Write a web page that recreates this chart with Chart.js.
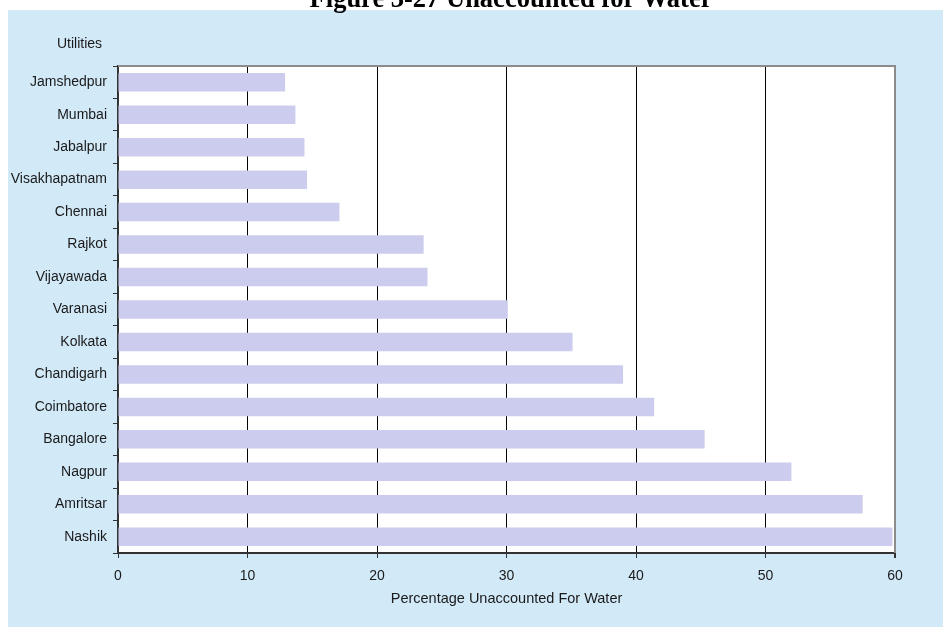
<!DOCTYPE html>
<html>
<head>
<meta charset="utf-8">
<title>Unaccounted for Water</title>
<script src="https://cdn.jsdelivr.net/npm/chart.js@4/dist/chart.umd.min.js"></script>
<style>
  html, body { margin: 0; padding: 0; background: #ffffff; }
  #wrap { width: 943px; height: 627px; }
</style>
</head>
<body>
<div id="wrap"><canvas id="c" width="943" height="627"></canvas></div>
<script>
// Utilities, listed top to bottom
const utilities = [
  'Jamshedpur', 'Mumbai', 'Jabalpur', 'Visakhapatnam', 'Chennai',
  'Rajkot', 'Vijayawada', 'Varanasi', 'Kolkata', 'Chandigarh',
  'Coimbatore', 'Bangalore', 'Nagpur', 'Amritsar', 'Nashik'
];

// Percentage of water unaccounted for, per utility
const unaccountedPct = [
  12.9, 13.7, 14.4, 14.6, 17.1,
  23.6, 23.9, 30.1, 35.1, 39.0,
  41.4, 45.3, 52.0, 57.5, 59.8
];

// Value axis tick labels
const xTicks = [0, 10, 20, 30, 40, 50, 60];

const chartTitle = 'Figure 3-27 Unaccounted for Water';
const categoryTitle = 'Utilities';
const valueTitle = 'Percentage Unaccounted For Water';

const SANS = '"Liberation Sans", Arial, sans-serif';
const SERIF = '"Liberation Serif", "Times New Roman", serif';

// Light blue panel, heading, the "Utilities" caption and the gray frame
const decorations = {
  id: 'decorations',
  beforeDraw(chart) {
    const ctx = chart.ctx;
    ctx.save();
    ctx.fillStyle = '#ffffff';
    ctx.fillRect(0, 0, chart.width, chart.height);
    ctx.fillStyle = 'rgb(210,233,248)';
    ctx.fillRect(8, 10, chart.width - 8, chart.height - 10);
    const a = chart.chartArea;
    ctx.fillStyle = '#ffffff';
    ctx.fillRect(a.left, a.top, a.right - a.left, a.bottom - a.top);
    ctx.restore();
  },
  afterDraw(chart) {
    const ctx = chart.ctx;
    const a = chart.chartArea;
    ctx.save();
    // frame on top and right
    ctx.strokeStyle = '#8c8c8c';
    ctx.lineWidth = 2;
    ctx.beginPath();
    ctx.moveTo(a.left, a.top);
    ctx.lineTo(a.right, a.top);
    ctx.lineTo(a.right, a.bottom);
    ctx.stroke();

    // heading (its upper part lies above the page edge)
    ctx.fillStyle = '#000000';
    ctx.font = 'bold 26.5px ' + SERIF;
    ctx.textAlign = 'center';
    ctx.textBaseline = 'alphabetic';
    ctx.fillText(chartTitle, 511, 7);

    // category caption
    ctx.font = '14px ' + SANS;
    ctx.fillStyle = '#1a1a1a';
    ctx.textAlign = 'left';
    ctx.textBaseline = 'middle';
    ctx.fillText(categoryTitle, 57, 44);
    ctx.restore();
  }
};

new Chart(document.getElementById('c'), {
  type: 'bar',
  data: {
    labels: utilities,
    datasets: [{
      data: unaccountedPct,
      backgroundColor: 'rgb(204,204,238)',
      borderWidth: 0,
      barPercentage: 0.57,
      categoryPercentage: 1.0
    }]
  },
  options: {
    indexAxis: 'y',
    responsive: false,
    animation: false,
    devicePixelRatio: 1,
    layout: { padding: { top: 66, right: 48, left: 0, bottom: 19 } },
    plugins: {
      legend: { display: false },
      tooltip: { enabled: false },
      title: { display: false }
    },
    scales: {
      x: {
        type: 'linear',
        min: 0,
        max: 60,
        afterBuildTicks(scale) {
          scale.ticks = xTicks.map(v => ({ value: v }));
        },
        afterFit(scale) { scale.height = 55; },
        ticks: {
          color: '#1a1a1a',
          font: { family: SANS, size: 14 },
          padding: 10
        },
        grid: {
          color: ctx => (ctx.tick && ctx.tick.value === 60) ? '#8c8c8c' : '#000000',
          lineWidth: ctx => (ctx.tick && ctx.tick.value === 60) ? 2 : 1,
          tickColor: '#333333',
          tickLength: 5,
          drawTicks: true
        },
        border: { display: true, color: '#333333', width: 2 },
        title: {
          display: true,
          text: valueTitle,
          color: '#1a1a1a',
          font: { family: SANS, size: 14.5 },
          padding: { top: 4, bottom: 0 }
        }
      },
      y: {
        type: 'category',
        afterFit(scale) { scale.width = 118; },
        ticks: {
          color: '#1a1a1a',
          font: { family: SANS, size: 14 },
          padding: 6
        },
        grid: {
          offset: true,
          drawOnChartArea: false,
          drawTicks: true,
          tickLength: 5,
          tickColor: '#333333'
        },
        border: { display: true, color: '#333333', width: 2 }
      }
    }
  },
  plugins: [decorations]
});
</script>
</body>
</html>
